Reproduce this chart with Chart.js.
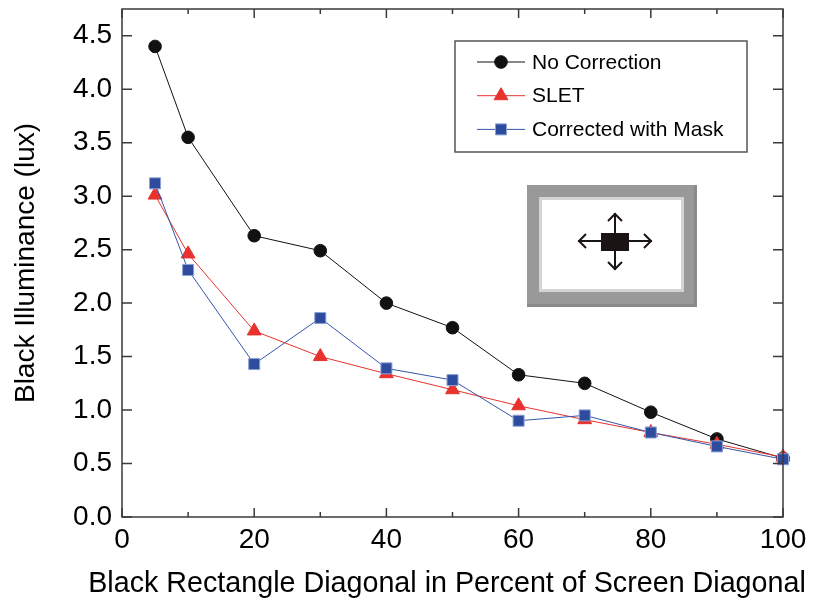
<!DOCTYPE html>
<html>
<head>
<meta charset="utf-8">
<script src="https://cdn.jsdelivr.net/npm/chart.js@4.4.1/dist/chart.umd.min.js"></script>
<style>
  html, body { margin: 0; padding: 0; background: #fff; }
  canvas { display: block; }
</style>
</head>
<body>
<canvas id="chart" width="814" height="605"></canvas>
<script>
// 数据
const sizes = [5, 10, 20, 30, 40, 50, 60, 70, 80, 90, 100]
const noCorrection = [4.40, 3.55, 2.63, 2.49, 2.00, 1.77, 1.33, 1.25, 0.98, 0.73, 0.55]
const slet = [3.01, 2.46, 1.74, 1.50, 1.34, 1.19, 1.04, 0.91, 0.79, 0.68, 0.56]
const withMask = [3.12, 2.31, 1.43, 1.86, 1.39, 1.28, 0.90, 0.95, 0.79, 0.66, 0.54]
const seriesNames = ['No Correction', 'SLET', 'Corrected with Mask']
const xTitle = 'Black Rectangle Diagonal in Percent of Screen Diagonal'
const yTitle = 'Black Illuminance (lux)'

const FONT = "'Liberation Sans', Arial, sans-serif"
const AXIS_COLOR = '#3a3a3a'

const toPoints = (ys) => sizes.map((x, i) => ({ x: x, y: ys[i] }))

// inward ticks + full frame
const framePlugin = {
  id: 'frame',
  afterDraw(chart) {
    const { ctx, chartArea: a, scales } = chart
    ctx.save()
    ctx.strokeStyle = AXIS_COLOR
    ctx.lineWidth = 1.5
    ctx.strokeRect(a.left, a.top, a.right - a.left, a.bottom - a.top)
    ctx.beginPath()
    scales.x.ticks.forEach(t => {
      const px = scales.x.getPixelForValue(t.value)
      const len = t.value % 20 === 0 ? 9 : 5
      ctx.moveTo(px, a.bottom); ctx.lineTo(px, a.bottom - len)
      ctx.moveTo(px, a.top); ctx.lineTo(px, a.top + len)
    })
    scales.y.ticks.forEach(t => {
      const py = scales.y.getPixelForValue(t.value)
      ctx.moveTo(a.left, py); ctx.lineTo(a.left + 10, py)
      ctx.moveTo(a.right, py); ctx.lineTo(a.right - 10, py)
    })
    ctx.stroke()

    // x title drawn by hand so Chart.js doesn't squeeze it to the plot width
    ctx.fillStyle = '#000'
    ctx.font = '28.7px ' + FONT
    ctx.textAlign = 'center'
    ctx.textBaseline = 'alphabetic'
    ctx.fillText(xTitle, 447, 592)
    ctx.restore()
  }
}

// legend box inside the plot
const boxLegend = {
  id: 'boxLegend',
  afterDraw(chart) {
    const { ctx } = chart
    const x0 = 455, y0 = 41, w = 292, h = 111
    ctx.save()
    ctx.strokeStyle = '#555'
    ctx.lineWidth = 1.5
    ctx.strokeRect(x0, y0, w, h)
    chart.data.datasets.forEach((ds, i) => {
      const y = 62 + i * 33.7
      ctx.strokeStyle = ds.borderColor
      ctx.lineWidth = 1
      ctx.beginPath(); ctx.moveTo(477, y); ctx.lineTo(525, y); ctx.stroke()
      ctx.fillStyle = ds.pointBackgroundColor
      ctx.strokeStyle = ds.pointBorderColor
      ctx.lineWidth = ds.pointBorderWidth
      Chart.helpers.drawPoint(ctx, {
        pointStyle: ds.pointStyle, radius: ds.pointRadius, borderWidth: ds.pointBorderWidth
      }, 501, y)
      ctx.fillStyle = '#000'
      ctx.font = '21px ' + FONT
      ctx.textBaseline = 'middle'
      ctx.fillText(ds.label, 532, y + 1)
    })
    ctx.restore()
  }
}

// small screen sketch in the plot
const insetPlugin = {
  id: 'inset',
  afterDraw(chart) {
    const { ctx } = chart
    ctx.save()
    ctx.fillStyle = '#999'
    ctx.fillRect(527, 185, 170, 122)
    ctx.fillStyle = '#8a8a8a'
    ctx.fillRect(527, 304, 170, 3)
    ctx.fillRect(694, 185, 3, 122)
    ctx.fillStyle = '#d4d4d4'
    ctx.fillRect(539, 197, 145, 95)
    ctx.fillStyle = '#fff'
    ctx.fillRect(542, 200, 139, 89)
    ctx.fillStyle = '#1a1414'
    ctx.fillRect(601, 233, 28, 18)
    ctx.strokeStyle = '#1a1414'
    ctx.lineWidth = 2
    const cx = 615, cy = 241
    ctx.beginPath()
    ctx.moveTo(578, cy); ctx.lineTo(652, cy)
    ctx.moveTo(cx, 213); ctx.lineTo(cx, 270)
    // arrow heads
    ctx.moveTo(586, cy - 7); ctx.lineTo(579, cy); ctx.lineTo(586, cy + 7)
    ctx.moveTo(644, cy - 7); ctx.lineTo(651, cy); ctx.lineTo(644, cy + 7)
    ctx.moveTo(cx - 7, 221); ctx.lineTo(cx, 214); ctx.lineTo(cx + 7, 221)
    ctx.moveTo(cx - 7, 262); ctx.lineTo(cx, 269); ctx.lineTo(cx + 7, 262)
    ctx.stroke()
    ctx.restore()
  }
}

const ctx = document.getElementById('chart').getContext('2d')

new Chart(ctx, {
  type: 'line',
  data: {
    datasets: [
      {
        label: seriesNames[0],
        data: toPoints(noCorrection),
        borderColor: '#111',
        borderWidth: 1,
        pointStyle: 'circle',
        pointRadius: 6.3,
        pointBackgroundColor: '#111',
        pointBorderColor: '#111',
        pointBorderWidth: 1,
        order: 3,
        clip: false
      },
      {
        label: seriesNames[1],
        data: toPoints(slet),
        borderColor: '#e8322e',
        borderWidth: 1,
        pointStyle: 'triangle',
        pointRadius: 8,
        pointBackgroundColor: '#e8322e',
        pointBorderColor: '#e8322e',
        pointBorderWidth: 1,
        order: 2,
        clip: false
      },
      {
        label: seriesNames[2],
        data: toPoints(withMask),
        borderColor: '#3556a8',
        borderWidth: 1,
        pointStyle: 'rect',
        pointRadius: 7.8,
        pointBackgroundColor: '#2e4c9e',
        pointBorderColor: '#8ea2d4',
        pointBorderWidth: 1,
        order: 1,
        clip: false
      }
    ]
  },
  options: {
    responsive: false,
    animation: false,
    devicePixelRatio: 1,
    layout: { padding: { top: 9, right: 31, left: 0, bottom: 0 } },
    plugins: {
      legend: { display: false },
      tooltip: { enabled: false }
    },
    scales: {
      x: {
        type: 'linear',
        min: 0,
        max: 100,
        grid: { display: false, drawTicks: false },
        border: { display: false },
        ticks: {
          stepSize: 10,
          padding: 6,
          color: '#000',
          font: { family: FONT, size: 28 },
          callback: (v) => (v % 20 === 0 ? String(v) : '')
        },
        title: { display: false },
        afterFit: (scale) => {
          scale.height = 88
          scale.paddingLeft = 0
          scale.paddingRight = 0
        }
      },
      y: {
        min: 0,
        max: 4.75,
        grid: { display: false, drawTicks: false },
        border: { display: false },
        ticks: {
          stepSize: 0.5,
          includeBounds: false,
          padding: 10,
          color: '#000',
          font: { family: FONT, size: 28 },
          callback: (v) => Number(v).toFixed(1)
        },
        title: {
          display: true,
          text: yTitle,
          color: '#000',
          font: { family: FONT, size: 28 },
          padding: { top: 9, bottom: 0 }
        },
        afterFit: (scale) => {
          scale.width = 122
          scale.paddingTop = 0
          scale.paddingBottom = 0
        }
      }
    }
  },
  plugins: [framePlugin, insetPlugin, boxLegend]
})
</script>
</body>
</html>
